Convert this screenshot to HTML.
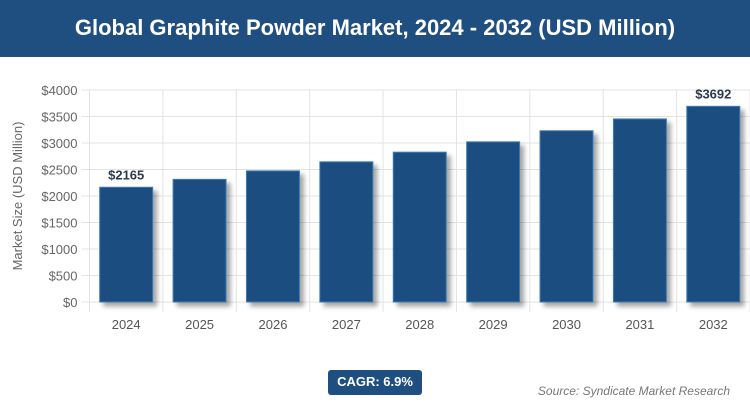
<!DOCTYPE html>
<html><head><meta charset="utf-8"><style>
body{margin:0;width:750px;height:417px;background:#fff;font-family:"Liberation Sans",sans-serif;overflow:hidden;position:relative}
#title{position:absolute;left:0;top:0;width:750px;height:57px;background:#1f4e80;color:#fff;font-weight:bold;font-size:22px;text-align:center;line-height:55px}
#cagr{position:absolute;left:328px;top:370px;width:94px;height:25px;background:#1f4e80;color:#fff;border-radius:3px;font-weight:bold;font-size:13px;text-align:center;line-height:23px}
#src{position:absolute;right:20px;top:384px;color:#777;font-style:italic;font-size:12px}
</style></head><body>
<div id="title">Global Graphite Powder Market, 2024 - 2032 (USD Million)</div>
<svg id="chart" width="750" height="417" style="position:absolute;left:0;top:0">
<defs><filter id="sh" x="-20%" y="-20%" width="150%" height="150%"><feDropShadow dx="4" dy="4" stdDeviation="2.5" flood-color="#000" flood-opacity="0.35"/></filter></defs>
</svg>
<div id="cagr">CAGR: 6.9%</div>
<div id="src">Source: Syndicate Market Research</div>
<script>
const categories=["2024","2025","2026","2027","2028","2029","2030","2031","2032"];
const values=[2165,2314,2474,2645,2827,3022,3231,3454,3692];
const yTicks=[0,500,1000,1500,2000,2500,3000,3500,4000];
const labeled=[0,8];
const svg=document.getElementById('chart');
const NS='http://www.w3.org/2000/svg';
const L=89.5,R=750,T=90,B=302,yMax=4000;
const bw=(R-L)/categories.length;
const y=v=>B-(v/yMax)*(B-T);
const x=i=>L+bw*i;
function mk(t,a,txt){const e=document.createElementNS(NS,t);for(const k in a)e.setAttribute(k,a[k]);if(txt!=null)e.textContent=txt;svg.appendChild(e);return e;}
yTicks.forEach(v=>{
 const g=mk('line',{x1:L-8,x2:R,y1:y(v),y2:y(v),stroke:'#e3e3e3','stroke-width':1});
 
 
 const t=mk('text',{x:L-12,y:y(v)+5,'text-anchor':'end','font-size':13,fill:'#666','font-family':'Liberation Sans'},'$'+v);
 
 
});
for(let i=0;i<=categories.length;i++){
 const g=mk('line',{x1:x(i),x2:x(i),y1:T,y2:B+10,stroke:'#e3e3e3','stroke-width':1});
 
 
}
categories.forEach((c,i)=>{
 const cx=x(i)+bw/2,w=53;
 const r=mk('rect',{x:cx-w/2,y:y(values[i]),width:w,height:B-y(values[i]),fill:'#1f4e80',stroke:'#3d7fb5','stroke-width':1,filter:'url(#sh)'});
 
 
 const t=mk('text',{x:cx,y:329,'text-anchor':'middle','font-size':13,fill:'#555','font-family':'Liberation Sans'},c);
 
 
 if(labeled.includes(i)){
  const l=mk('text',{x:cx,y:y(values[i])-8,'text-anchor':'middle','font-size':13,'font-weight':'bold',fill:'#2b3a4f','font-family':'Liberation Sans'},'$'+values[i]);
  
  
 }
});
const yt=mk('text',{x:0,y:0,transform:'translate(22,196) rotate(-90)','text-anchor':'middle','font-size':13,fill:'#666','font-family':'Liberation Sans'},'Market Size (USD Million)');


</script>
</body></html>
